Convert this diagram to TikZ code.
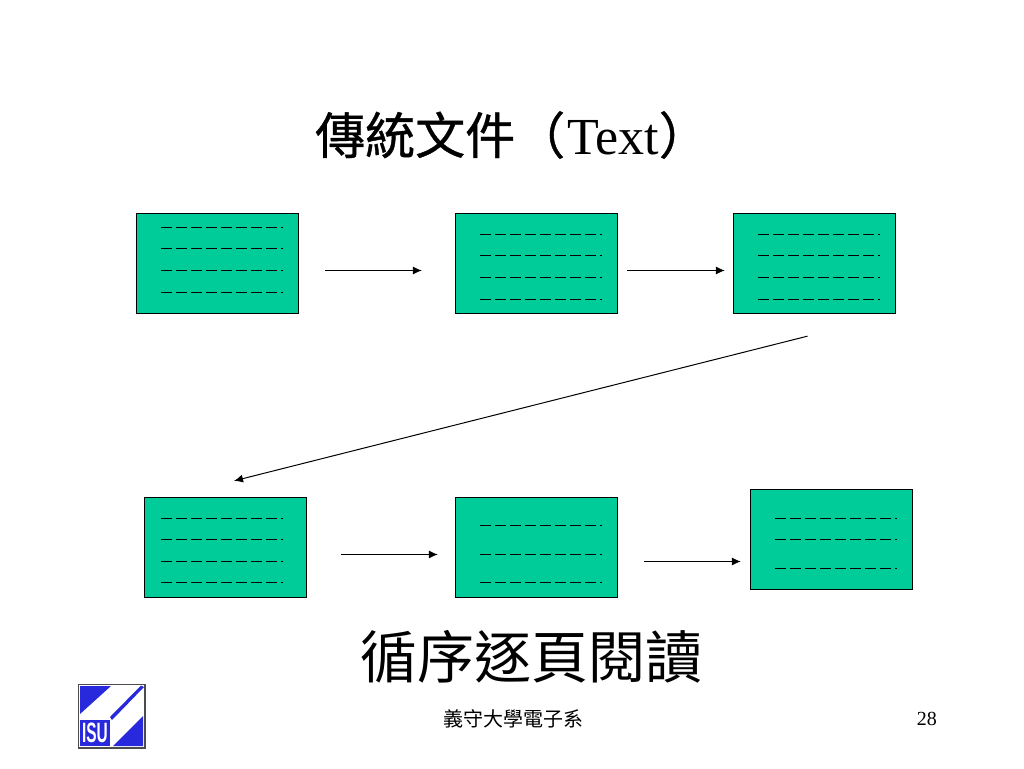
\documentclass[tikz,border=0pt]{standalone}
\usepackage{fontspec}
\usetikzlibrary{arrows.meta}
\setmainfont{Liberation Serif}
\newfontfamily\cjk{Noto Sans CJK TC}
\newfontfamily\cjkheavy[FakeBold=0.8]{Noto Sans CJK TC}
\newfontfamily\logofont{Liberation Sans}
\definecolor{pagegreen}{RGB}{0,204,153}
\definecolor{logoblue}{RGB}{40,40,220}
\tikzset{
	pagebox/.style={draw=black,line width=1.3pt,fill=pagegreen,minimum width=162pt,minimum height=100pt,inner sep=0pt},
	textline/.style={line width=1.2pt,dash pattern=on 11.5pt off 3.5pt},
	flow/.style={-{Latex[length=9pt,width=8pt]},line width=1pt,black},
}
\begin{document}
\begin{tikzpicture}[x=1pt,y=-1pt]
	\useasboundingbox (0,0) rectangle (1024,768);
	
	\node[font=\fontsize{52}{52}\selectfont,anchor=base west,inner sep=0pt] (title) at (315,154) {{\cjkheavy\fontsize{50}{50}\selectfont 傳統文件（}\hspace{2pt}Text{\cjkheavy\fontsize{50}{50}\selectfont ）}};
	
	\node[pagebox] (page1) at (217.5,263.5) {};
	\node[pagebox] (page2) at (536.5,263.5) {};
	\node[pagebox] (page3) at (814.5,263.5) {};
	\node[pagebox] (page4) at (225.5,547.5) {};
	\node[pagebox] (page5) at (536.5,547.5) {};
	\node[pagebox] (page6) at (831.5,539.5) {};
	
	% dashed text lines, distance from the top of the page
	\foreach \y in {14.5,35.5,57.5,79.5}
		\draw[textline] ([shift={(25,\y)}]page1.north west) -- +(122,0);
	\foreach \y in {21.5,42.5,64.5,86.5}
		\draw[textline] ([shift={(25,\y)}]page2.north west) -- +(122,0);
	\foreach \y in {21.5,42.5,64.5,86.5}
		\draw[textline] ([shift={(25,\y)}]page3.north west) -- +(122,0);
	\foreach \y in {21.5,42.5,64.5,85.5}
		\draw[textline] ([shift={(17,\y)}]page4.north west) -- +(122,0);
	\foreach \y in {28.5,57.5,85.5}
		\draw[textline] ([shift={(25,\y)}]page5.north west) -- +(122,0);
	\foreach \y in {29.5,50.5,79.5}
		\draw[textline] ([shift={(25,\y)}]page6.north west) -- +(122,0);
	
	\draw[flow] ([shift={(26,7)}]page1.east) -- ([shift={(-33,7)}]page2.west);
	\draw[flow] ([shift={(9,7)}]page2.east) -- ([shift={(-8,7)}]page3.west);
	\draw[flow] ([shift={(-7,22)}]page3.south) -- ([shift={(8.5,-16)}]page4.north);
	\draw[flow] ([shift={(34,7)}]page4.east) -- ([shift={(-17,7)}]page5.west);
	\draw[flow] ([shift={(26,14)}]page5.east) -- ([shift={(-9,22)}]page6.west);
	
	\node[font=\fontsize{57}{57}\selectfont\cjk,anchor=base west,inner sep=0pt] (caption) at (360,678) {循序逐頁閱讀};
	
	% logo
	\draw[draw=black!70,line width=1.4pt,fill=white] (78.5,684.5) rectangle (145,748);
	\fill[logoblue] (80,686) -- (111,686) -- (80,714) -- cycle;
	\fill[logoblue] (110,717) -- (141,685.5) -- (144,687) -- (112,720) -- cycle;
	\fill[logoblue] (113,746) -- (143,746) -- (143,716) -- cycle;
	\fill[logoblue] (80,720) rectangle (110,746);
	\node[font=\logofont\bfseries\fontsize{28}{28}\selectfont,text=white,xscale=.55,inner sep=0pt] (isu) at (95,733) {ISU};
	
	\node[font=\fontsize{20}{20}\selectfont\cjk,anchor=base west,inner sep=0pt] (footer) at (443,726) {義守大學電子系};
	\node[font=\fontsize{20}{20}\selectfont,anchor=base east,inner sep=0pt] (pagenum) at (937,725) {28};
\end{tikzpicture}
\end{document}
